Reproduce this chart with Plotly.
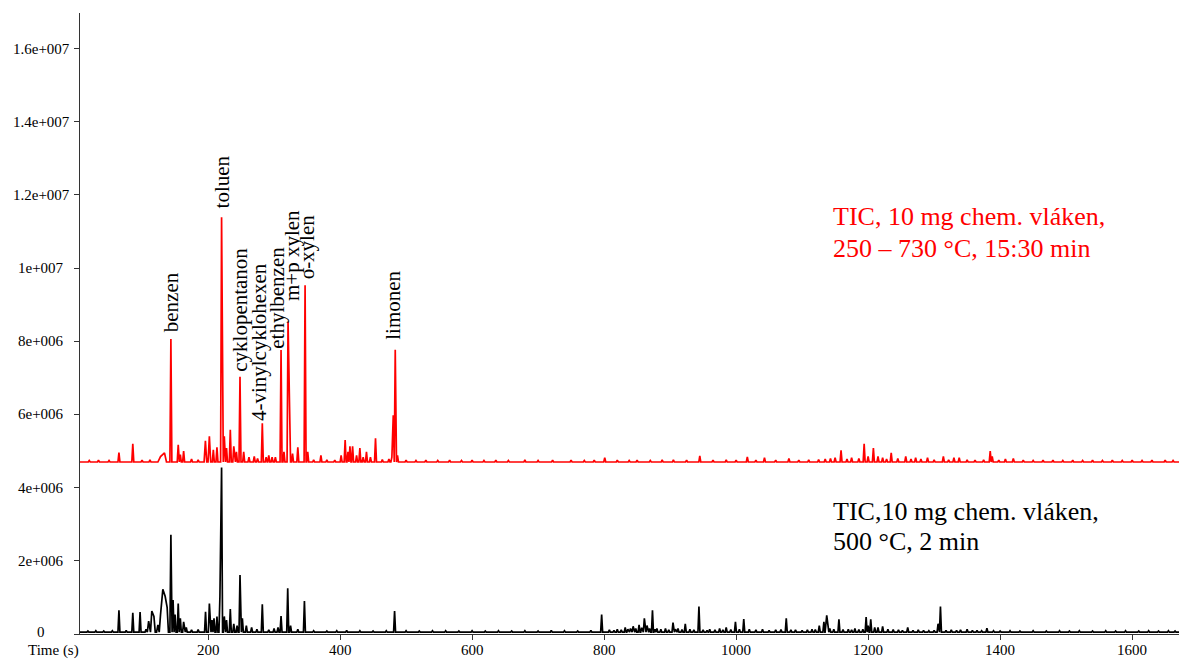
import plotly.graph_objects as go

# ---------------- data ----------------
# time range of the recorded chromatograms (s)
time_start = 6
time_end = 1671

# red trace: TIC, 10 mg chem. vlaken, 250-730 C (displayed with an offset baseline)
red_baseline = 4.70e6
red_peak_t = [20, 34, 50, 65, 86, 100, 112, 128, 134, 143.7, 154.8, 158, 163, 175, 185, 196, 202, 208,
              213.5, 220.5, 224.6,
              228, 233.7, 239, 243, 248.4, 254, 262, 270, 275, 282.2, 288, 292, 297, 302,
              310.6, 315, 321.2, 323.5, 328, 336, 347, 351, 360, 371, 380, 392, 401.6, 407.7, 412, 415,
              419, 425, 430, 435, 440, 446, 453.7, 464, 474, 478.5, 480.6, 483.6, 487,
              500, 515, 530, 548, 566, 584, 600, 618, 636, 655, 680, 700, 722, 750, 770, 785,
              801, 820, 838, 850, 870, 888, 905, 925, 945, 965, 985, 1000, 1017, 1030, 1043,
              1060, 1080, 1095, 1110, 1125, 1135, 1143,
              1150, 1159, 1168, 1175, 1186, 1194, 1200, 1208, 1215, 1222, 1228, 1235, 1245, 1257, 1265,
              1272, 1280, 1290, 1300,
              1314, 1322, 1330, 1338, 1350, 1362, 1375, 1385, 1388, 1398, 1408, 1420, 1435, 1450,
              1465, 1480, 1495, 1510, 1525, 1540, 1555, 1570, 1585, 1600, 1615, 1630, 1650, 1662]
red_peak_h = [0.04, 0.05, 0.04, 0.26, 0.50, 0.05, 0.06, 0.15, 0.25, 3.36, 0.47, 0.20, 0.30, 0.08, 0.06,
              0.58, 0.70, 0.33,
              0.40, 6.69, 0.70,
              0.38, 0.88, 0.43, 0.28, 2.33, 0.28, 0.13, 0.15, 0.10, 1.06, 0.13, 0.18, 0.13, 0.13,
              3.06, 0.28, 3.83, 1.50, 0.23, 0.40, 4.83, 0.28, 0.06, 0.18, 0.06, 0.05, 0.18, 0.60, 0.28,
              0.43,
              0.43, 0.18, 0.38, 0.13, 0.28, 0.13, 0.65, 0.07, 0.08, 0.13, 1.28, 3.07, 0.18,
              0.05, 0.04, 0.05, 0.04, 0.05, 0.04, 0.05, 0.04, 0.05, 0.04, 0.06, 0.04, 0.05, 0.05, 0.04,
              0.05,
              0.12, 0.05, 0.04, 0.05, 0.04, 0.06, 0.06, 0.05, 0.17, 0.05, 0.06, 0.05, 0.14, 0.05, 0.12,
              0.05, 0.10, 0.05, 0.06, 0.07, 0.08, 0.10,
              0.12, 0.32, 0.08, 0.12, 0.10, 0.50, 0.15, 0.38, 0.15, 0.12, 0.08, 0.25, 0.10, 0.15, 0.08,
              0.12, 0.08, 0.12, 0.06,
              0.15, 0.06, 0.12, 0.12, 0.06, 0.05, 0.06, 0.30, 0.15, 0.05, 0.08, 0.10, 0.05, 0.04,
              0.05, 0.05, 0.04, 0.05, 0.04, 0.05, 0.04, 0.05, 0.04, 0.05, 0.04, 0.05, 0.05, 0.04]
red_peak_w = [1.5] * len(red_peak_t)
red_peak_w[red_peak_t.index(128)] = 4
red_peak_w[red_peak_t.index(134)] = 3
red_peak_w[red_peak_t.index(196)] = 2
red_peak_w[red_peak_t.index(202)] = 2

# black trace: TIC, 10 mg chem. vlaken, 500 C, 2 min
black_baseline = 0.05e6
black_peak_t = [18, 30, 42, 55, 65, 76, 86, 97, 106, 110, 114.8, 118, 124, 128, 131.5, 135, 138, 143.7,
                147, 150, 154.8, 158,
                163, 167, 175, 185, 196.2, 202, 206, 209, 213.5, 218, 220.5, 224.6, 228, 233.7, 239, 244,
                248.4, 252, 258, 266, 274, 282.2, 292, 300, 306, 310.6, 320.7, 325, 336, 346, 360, 380,
                395, 410, 430, 450, 470, 482.6, 500, 520, 540,
                560, 580, 600, 620, 640, 660, 680, 700, 720, 740, 760, 780, 796.3, 808, 815, 820, 826,
                832, 836, 840, 844, 848, 853, 857, 861, 865, 869, 873.3, 877, 880, 886, 893, 898,
                904.4, 908,
                912, 918, 923, 930, 936, 943.7, 950, 956, 960, 968, 975, 980, 985, 992, 999, 1005,
                1011.6, 1020, 1030, 1040, 1050, 1060, 1068, 1076, 1083, 1090, 1100, 1108, 1115, 1120,
                1126, 1133, 1137.3, 1142, 1148, 1155.8, 1162, 1170, 1175, 1180, 1186, 1192, 1197, 1200,
                1204, 1210, 1215,
                1222, 1230, 1238, 1246, 1252, 1260, 1268, 1276, 1284, 1292, 1300, 1306, 1309.6, 1318,
                1326, 1334, 1340, 1350, 1358, 1365, 1372, 1380, 1390, 1400, 1415, 1430, 1450, 1470,
                1490, 1505, 1520, 1540, 1560, 1575, 1590, 1610, 1625, 1640, 1655, 1665]
black_peak_h = [0.03, 0.04, 0.03, 0.04, 0.60, 0.05, 0.53, 0.55, 0.08, 0.30, 0.58, 0.43, 0.2, 0.48, 1.17,
                0.98, 0.68, 2.66,
                0.88, 0.48, 0.78, 0.38,
                0.28, 0.13, 0.06, 0.07, 0.56, 0.78, 0.33, 0.38, 0.43, 0.98, 4.50, 0.43, 0.33, 0.63, 0.23,
                0.18,
                1.56, 0.38, 0.18, 0.13, 0.08, 0.76, 0.06, 0.10, 0.13, 0.44, 1.20, 0.18, 0.08, 0.85, 0.04,
                0.03,
                0.04, 0.05, 0.04, 0.03, 0.04, 0.58, 0.04, 0.03, 0.04,
                0.04, 0.03, 0.04, 0.03, 0.04, 0.03, 0.04, 0.03, 0.05, 0.04, 0.03, 0.05, 0.48, 0.06, 0.05,
                0.08, 0.06,
                0.13, 0.08, 0.10, 0.16, 0.10, 0.20, 0.12, 0.38, 0.18, 0.10, 0.60, 0.08, 0.10, 0.08, 0.10,
                0.06, 0.26, 0.08,
                0.10, 0.07, 0.23, 0.08, 0.06, 0.70, 0.06, 0.05, 0.08, 0.06, 0.10, 0.06, 0.13, 0.07, 0.28,
                0.08,
                0.36, 0.08, 0.06, 0.08, 0.05, 0.06, 0.07, 0.38, 0.06, 0.06, 0.05, 0.06, 0.08, 0.07,
                0.18, 0.28, 0.46, 0.10, 0.08, 0.35, 0.07, 0.08, 0.06, 0.10, 0.07, 0.08, 0.41, 0.18,
                0.35, 0.13, 0.13,
                0.16, 0.08, 0.07, 0.06, 0.05, 0.13, 0.05, 0.06, 0.05, 0.04, 0.05, 0.23, 0.70, 0.05,
                0.06, 0.05, 0.06, 0.08, 0.05, 0.05, 0.04, 0.11, 0.04, 0.03, 0.04, 0.03, 0.04, 0.03,
                0.04, 0.03, 0.04, 0.03, 0.04, 0.03, 0.04, 0.03, 0.04, 0.03, 0.04, 0.03]
black_peak_w = [1.5] * len(black_peak_t)
for _t, _w in [(110, 2), (114.8, 2), (118, 2), (124, 2), (128, 2), (131.5, 2), (135, 2), (138, 2),
               (1137.3, 2.5)]:
    black_peak_w[black_peak_t.index(_t)] = _w

# peak labels (compound names) on the red trace
label_text = ["benzen", "toluen", "cyklopentanon", "4-vinylcyklohexen", "ethylbenzen",
              "m+p xylen", "o-xylen", "limonen"]
label_t = [143, 220.8, 248.5, 276.2, 304, 326.8, 349.5, 480.8]
label_y = [8.23e6, 11.61e6, 7.14e6, 5.80e6, 7.76e6, 9.08e6, 9.67e6, 8.01e6]

x_ticks = [200, 400, 600, 800, 1000, 1200, 1400, 1600]
y_ticks = [0, 2e6, 4e6, 6e6, 8e6, 10e6, 12e6, 14e6, 16e6]
y_tick_text = ["0", "2e+006", "4e+006", "6e+006", "8e+006", "1e+007", "1.2e+007", "1.4e+007", "1.6e+007"]

red_caption = ["TIC, 10 mg chem. vláken,", "250 – 730 °C, 15:30 min"]
black_caption = ["TIC,10 mg chem. vláken,", "500 °C, 2 min"]


# ---------------- build polyline from the peak tables ----------------
def build_trace(times, heights, widths, base):
    xs = [time_start]
    ys = [base]
    for t, h, w in sorted(zip(times, heights, widths)):
        if xs[-1] > t - w and len(xs) > 1:
            xs.pop(); ys.pop()
        else:
            xs.append(t - w); ys.append(base)
        xs.append(t); ys.append(base + h * 1e6)
        xs.append(t + w); ys.append(base)
    xs.append(time_end); ys.append(base)
    return xs, ys


rx, ry = build_trace(red_peak_t, red_peak_h, red_peak_w, red_baseline)
bx, by = build_trace(black_peak_t, black_peak_h, black_peak_w, black_baseline)

FONT = "Liberation Serif"
W, H = 1179, 660
ML, MR, MT, MB = 80, 0, 13, 26
PW, PH = W - ML - MR, H - MT - MB


def px_x(px):
    return (px - ML) / PW


def px_y(py):
    return (H - MB - py) / PH


fig = go.Figure()
fig.add_trace(go.Scatter(x=bx, y=by, mode="lines", line=dict(color="#000000", width=1.7),
                         hoverinfo="skip"))
fig.add_trace(go.Scatter(x=rx, y=ry, mode="lines", line=dict(color="#ff0000", width=1.7),
                         hoverinfo="skip"))

annotations = []
for txt, t, yv in zip(label_text, label_t, label_y):
    annotations.append(dict(x=t, y=yv, xref="x", yref="y", text=txt, textangle=-90,
                            showarrow=False, xanchor="center", yanchor="bottom",
                            font=dict(family=FONT, size=21, color="#000000"),
                            borderpad=0))

# y tick labels (centred, like the original)
for v, s in zip(y_ticks, y_tick_text):
    annotations.append(dict(x=px_x(41), y=v, xref="paper", yref="y", text=s,
                            showarrow=False, xanchor="center", yanchor="middle",
                            yshift=2 if v == 0 else 0,
                            font=dict(family=FONT, size=15, color="#000000"), borderpad=0))

# x tick labels
for v in x_ticks:
    annotations.append(dict(x=v, y=px_y(650), xref="x", yref="paper", text=str(v),
                            showarrow=False, xanchor="center", yanchor="middle",
                            font=dict(family=FONT, size=15, color="#000000"), borderpad=0))

annotations.append(dict(x=px_x(53), y=px_y(650.5), xref="paper", yref="paper", text="Time (s)",
                        showarrow=False, xanchor="center", yanchor="middle",
                        font=dict(family=FONT, size=15, color="#000000"), borderpad=0))

for txt, py in zip(red_caption, [216.5, 248]):
    annotations.append(dict(x=px_x(832), y=px_y(py), xref="paper", yref="paper", text=txt,
                            showarrow=False, xanchor="left", yanchor="middle",
                            font=dict(family=FONT, size=26, color="#ff0000"), borderpad=0))
for txt, py in zip(black_caption, [511, 541]):
    annotations.append(dict(x=px_x(832), y=px_y(py), xref="paper", yref="paper", text=txt,
                            showarrow=False, xanchor="left", yanchor="middle",
                            font=dict(family=FONT, size=26, color="#000000"), borderpad=0))

fig.update_layout(
    width=W, height=H,
    margin=dict(l=ML, r=MR, t=MT, b=MB, pad=0),
    paper_bgcolor="white", plot_bgcolor="white",
    showlegend=False,
    annotations=annotations,
    xaxis=dict(range=[time_start, time_end], tickmode="array", tickvals=x_ticks,
               ticks="outside", ticklen=5, tickcolor="#333333", tickwidth=1,
               showline=True, linecolor="#333333", linewidth=1, showgrid=False,
               zeroline=False, showticklabels=False, automargin=False),
    yaxis=dict(range=[0, 16.97e6], tickmode="array", tickvals=y_ticks,
               ticks="outside", ticklen=5, tickcolor="#333333", tickwidth=1,
               showline=True, linecolor="#333333", linewidth=1, showgrid=False,
               zeroline=False, showticklabels=False, automargin=False),
)

fig.write_html("out.html")
